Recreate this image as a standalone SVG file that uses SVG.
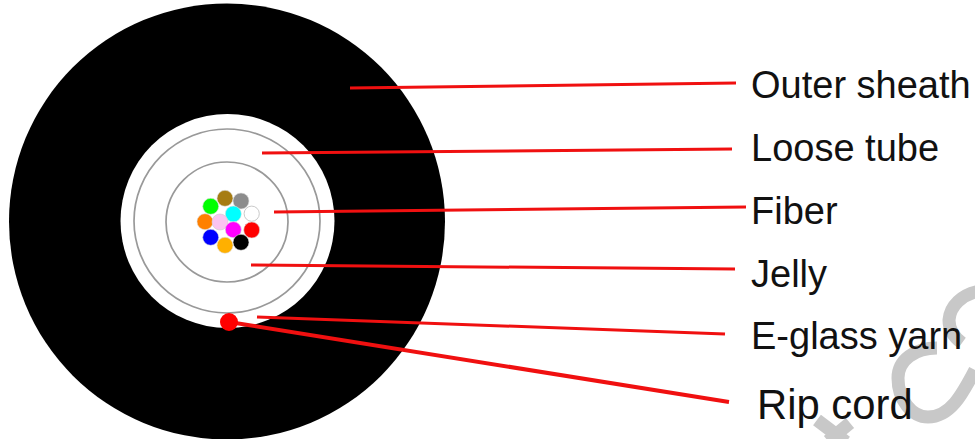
<svg xmlns="http://www.w3.org/2000/svg" width="975" height="439" viewBox="0 0 975 439">
<style>
.lbl{font-family:"Liberation Sans",Arial,sans-serif;font-size:38px;fill:#111}
.ln{stroke:#f01010;stroke-width:3;fill:none}
.ring{fill:none;stroke:#999;stroke-width:1.7}
.f{stroke:#ddd;stroke-width:.6}
.wm{fill:none;stroke:#c8c8c8;stroke-width:13}
</style>
<rect width="975" height="439" fill="#fff"/>
<g id="watermark">
<path class="wm" d="M980 291C962 294 950 306 949 320C949 330 955 338 962 343"/>
<path class="wm" d="M937 348C915 348 898 360 898 378C898 400 912 417 928 417C950 417 962 395 975 370"/>
<path class="wm" d="M817 420L846 442M850 423L828 441"/>
</g>
<g id="cable">
<circle id="outer-sheath" cx="227" cy="221.5" r="218" fill="#000"/>
<circle id="tube" cx="227.5" cy="221" r="107" fill="#fff"/>
<ellipse class="ring" cx="227" cy="221" rx="93" ry="92"/>
<ellipse class="ring" cx="227" cy="222" rx="61" ry="60"/>
</g>
<g id="fibers">
<circle class="f" cx="225" cy="198.3" r="8" fill="#a67c12"/>
<circle class="f" cx="241" cy="201" r="8" fill="#8c8c8c"/>
<circle class="f" cx="210.7" cy="206.3" r="8" fill="#00ff00"/>
<circle cx="251.7" cy="213.7" r="7.6" fill="#fff" stroke="#bbb" stroke-width=".8"/>
<circle class="f" cx="233.3" cy="214" r="8" fill="#00ffff"/>
<circle class="f" cx="205" cy="221.7" r="8" fill="#ff8000"/>
<circle cx="220" cy="222" r="8" fill="#fbc4f0" stroke="#ccc" stroke-width=".6"/>
<circle class="f" cx="233.3" cy="229.7" r="8" fill="#ff00ff"/>
<circle class="f" cx="251.7" cy="230" r="8" fill="#ff0000"/>
<circle class="f" cx="210.7" cy="237.3" r="8" fill="#0000ff"/>
<circle class="f" cx="241" cy="242.3" r="8" fill="#000"/>
<circle class="f" cx="225" cy="245.3" r="8" fill="#ffb000"/>
</g>
<g id="connectors">
<line class="ln" x1="350" y1="88" x2="736" y2="83"/>
<line class="ln" x1="262" y1="153" x2="732" y2="149"/>
<line class="ln" x1="274" y1="212" x2="746" y2="207"/>
<line class="ln" x1="251" y1="265" x2="735" y2="269"/>
<line class="ln" x1="257" y1="317" x2="725" y2="334"/>
<line class="ln" style="stroke-width:4" x1="229" y1="322" x2="729" y2="402"/>
</g>
<g id="rip-cord"><circle cx="229" cy="322" r="9" fill="#ff0000"/></g>
<g id="labels">
<text class="lbl" id="label-outer" x="751" y="98">Outer sheath</text>
<text class="lbl" id="label-tube" x="751" y="161">Loose tube</text>
<text class="lbl" id="label-fiber" x="751" y="224">Fiber</text>
<text class="lbl" id="label-jelly" x="751" y="287">Jelly</text>
<text class="lbl" id="label-yarn" x="751" y="349">E-glass yarn</text>
<text class="lbl" id="label-rip" x="757" y="419" style="font-size:41.8px">Rip cord</text>
</g>
</svg>
